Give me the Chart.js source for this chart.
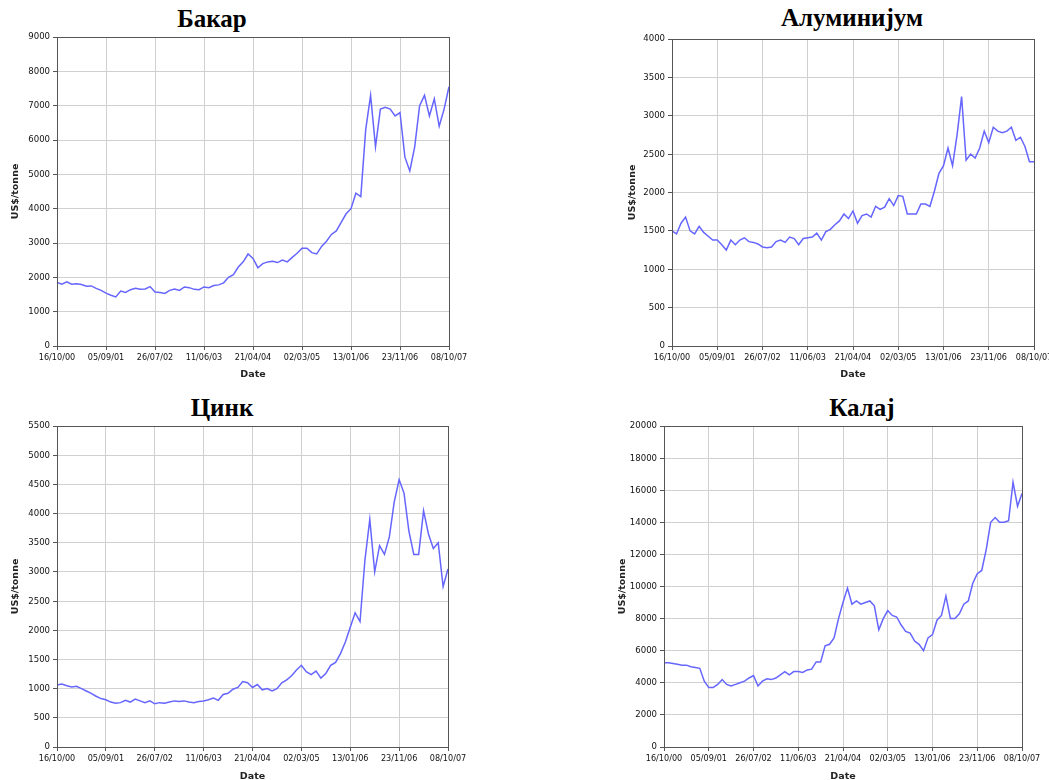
<!DOCTYPE html>
<html>
<head>
<meta charset="UTF-8">
<title>Цене метала</title>
<style>
    body {
        margin: 0;
        padding: 0;
        background: #fff;
        width: 1049px;
        height: 780px;
        overflow: hidden;
        position: relative;
    }
    .naslov {
        position: absolute;
        width: 300px;
        text-align: center;
        font-family: "Liberation Serif", serif;
        font-weight: bold;
        font-size: 25px;
        line-height: 25px;
        color: #000;
    }
    canvas {
        position: absolute;
    }
</style>
</head>
<body>
<div class="naslov" style="left:62px; top:6px;">Бакар</div>
<div class="naslov" style="left:702px; top:5px;">Алуминијум</div>
<div class="naslov" style="left:72px; top:395px;">Цинк</div>
<div class="naslov" style="left:712px; top:395px;">Калај</div>

<canvas id="c1"></canvas>
<canvas id="c2"></canvas>
<canvas id="c3"></canvas>
<canvas id="c4"></canvas>

<script src="https://cdn.jsdelivr.net/npm/chart.js"></script>
<script>
// datumi na x osi
var dateTicks = ['16/10/00', '05/09/01', '26/07/02', '11/06/03', '21/04/04', '02/03/05', '13/01/06', '23/11/06', '08/10/07'];
var pointsPerTick = 10;

// cene, US$/tonne
var copper = [
    1850, 1800, 1870, 1800, 1810, 1790, 1740, 1750, 1680, 1620,
    1540, 1480, 1430, 1600, 1560, 1640, 1680, 1650, 1660, 1730,
    1570, 1560, 1530, 1620, 1660, 1620, 1720, 1700, 1650, 1640,
    1720, 1700, 1760, 1780, 1840, 2000, 2080, 2300, 2450, 2680,
    2550, 2280, 2400, 2450, 2470, 2430, 2500, 2450, 2580, 2700,
    2850, 2850, 2720, 2680, 2900, 3050, 3250, 3350, 3600, 3850,
    4000, 4450, 4350, 6300, 7300, 5800, 6900, 6950, 6900, 6700,
    6800, 5500, 5100, 5800, 7000, 7300, 6700, 7200, 6400, 6900,
    7550
];
var aluminium = [
    1500, 1460, 1600, 1680, 1500, 1460, 1560, 1480, 1430, 1380,
    1380, 1320, 1250, 1380, 1320, 1380, 1410, 1360, 1350, 1330,
    1290, 1280, 1290, 1360, 1380, 1350, 1420, 1400, 1320, 1400,
    1410, 1420, 1470, 1380, 1490, 1520, 1580, 1630, 1720, 1660,
    1760, 1600, 1700, 1720, 1680, 1820, 1780, 1810, 1920, 1830,
    1960, 1950, 1720, 1720, 1720, 1850, 1850, 1820, 2020, 2250,
    2350, 2580, 2350, 2750, 3250, 2420, 2500, 2450, 2580, 2800,
    2650, 2850, 2800, 2780, 2800, 2850, 2680, 2720, 2600, 2400,
    2400
];
var zinc = [
    1060, 1080, 1050, 1030, 1040, 1000, 960, 920, 870, 830,
    810, 770, 750, 760, 800, 770, 820, 790, 760, 790,
    740, 760, 750, 770, 790, 780, 790, 770, 760, 780,
    790, 810, 840, 800, 900, 920, 990, 1020, 1120, 1100,
    1020, 1070, 980, 1000, 960, 1000, 1100, 1150, 1220, 1320,
    1400, 1290, 1240, 1300, 1180, 1260, 1400, 1450, 1600, 1800,
    2050, 2300, 2150, 3200, 3900, 3000, 3450, 3300, 3600, 4200,
    4580, 4350, 3700, 3300, 3300, 4050, 3650, 3400, 3500, 2750,
    3050
];
var tin = [
    5250, 5250, 5200, 5150, 5100, 5100, 5000, 4950, 4900, 4100,
    3700, 3700, 3900, 4200, 3900, 3800, 3900, 4000, 4100, 4300,
    4450, 3800, 4100, 4250, 4200, 4300, 4500, 4700, 4500, 4700,
    4700, 4650, 4800, 4850, 5300, 5300, 6300, 6400, 6800, 8000,
    9000, 9900, 8900, 9100, 8900, 9000, 9100, 8800, 7300, 8000,
    8500, 8200, 8100, 7600, 7200, 7100, 6600, 6400, 6000, 6800,
    7000, 7900, 8200, 9400, 8000, 8000, 8300, 8900, 9100, 10200,
    10800, 11000, 12300, 14000, 14300, 14000, 14000, 14100, 16500, 15000,
    15800
];

// raspored: kanvas [l, t, r, b] i oblast grafika [l, t, r, b]
var panels = [
    { id: 'c1', data: copper,    yMax: 9000,  yStep: 1000, box: [8, 27, 475, 382],   plot: [57, 37, 449, 346] },
    { id: 'c2', data: aluminium, yMax: 4000,  yStep: 500,  box: [625, 29, 1059, 382], plot: [672, 39, 1034, 346] },
    { id: 'c3', data: zinc,      yMax: 5500,  yStep: 500,  box: [8, 416, 475, 784],  plot: [57, 426, 448, 747] },
    { id: 'c4', data: tin,       yMax: 20000, yStep: 2000, box: [615, 416, 1048, 784], plot: [664, 426, 1022, 747] }
];

var framePlugin = {
    id: 'frame',
    afterDraw: function(chart) {
        var a = chart.chartArea;
        var ctx = chart.ctx;
        ctx.save();
        ctx.strokeStyle = '#555';
        ctx.lineWidth = 1;
        ctx.strokeRect(Math.round(a.left) + 0.5, Math.round(a.top) + 0.5,
            Math.round(a.right - a.left), Math.round(a.bottom - a.top));
        ctx.restore();
    }
};

function makeChart(p) {
    var canvas = document.getElementById(p.id);
    var w = p.box[2] - p.box[0];
    var h = p.box[3] - p.box[1];
    canvas.style.left = p.box[0] + 'px';
    canvas.style.top = p.box[1] + 'px';
    canvas.width = w;
    canvas.height = h;

    var yWidth = p.plot[0] - p.box[0];
    var xHeight = p.box[3] - p.plot[3];

    var points = p.data.map(function(v, i) {
        return { x: i / pointsPerTick, y: v };
    });

    return new Chart(canvas.getContext('2d'), {
        type: 'line',
        data: {
            datasets: [{
                data: points,
                borderColor: 'rgb(102, 102, 255)',
                borderWidth: 1.5,
                pointRadius: 0,
                tension: 0,
                fill: false
            }]
        },
        options: {
            responsive: false,
            animation: false,
            layout: {
                padding: { left: 0, top: p.plot[1] - p.box[1], right: p.box[2] - p.plot[2], bottom: 0 }
            },
            plugins: {
                legend: { display: false },
                tooltip: { enabled: false }
            },
            scales: {
                x: {
                    type: 'linear',
                    min: 0,
                    max: dateTicks.length - 1,
                    afterFit: function(s) { s.height = xHeight; s.paddingLeft = 0; s.paddingRight = 0; },
                    ticks: {
                        stepSize: 1,
                        maxRotation: 0,
                        autoSkip: false,
                        padding: 2,
                        color: '#111',
                        font: { family: 'DejaVu Sans Condensed', size: 9 },
                        callback: function(v) { return dateTicks[v]; }
                    },
                    grid: { color: '#d0d0d0', tickColor: '#555', tickLength: 4 },
                    border: { color: '#555' },
                    title: {
                        display: true,
                        text: 'Date',
                        color: '#222',
                        padding: { top: 0, bottom: 2 },
                        font: { family: 'DejaVu Sans', size: 9.5, weight: 'bold' }
                    }
                },
                y: {
                    min: 0,
                    max: p.yMax,
                    afterFit: function(s) { s.width = yWidth; s.paddingTop = 0; s.paddingBottom = 0; },
                    ticks: {
                        stepSize: p.yStep,
                        padding: 3,
                        color: '#111',
                        font: { family: 'DejaVu Sans Condensed', size: 9.5 },
                        callback: function(v) { return String(v); }
                    },
                    grid: { color: '#d0d0d0', tickColor: '#555', tickLength: 4 },
                    border: { color: '#555' },
                    title: {
                        display: true,
                        text: 'US$/tonne',
                        color: '#222',
                        padding: { top: 2, bottom: 0 },
                        font: { family: 'DejaVu Sans', size: 9.5, weight: 'bold' }
                    }
                }
            }
        },
        plugins: [framePlugin]
    });
}

panels.forEach(makeChart);
</script>
</body>
</html>
